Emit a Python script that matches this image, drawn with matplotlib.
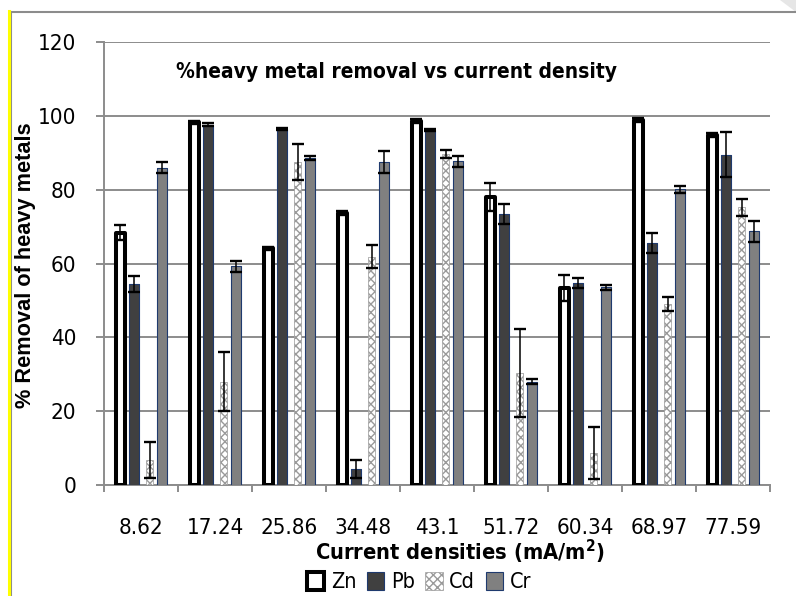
import matplotlib
matplotlib.use('Agg')
import matplotlib.pyplot as plt
import numpy as np
from matplotlib import font_manager as fm
from matplotlib.patches import Patch, Polygon
from matplotlib.lines import Line2D

# ---------------- data ----------------
categories = ['8.62', '17.24', '25.86', '34.48', '43.1', '51.72', '60.34', '68.97', '77.59']
series_names = ['Zn', 'Pb', 'Cd', 'Cr']
zn = [68.3, 98.2, 64.1, 73.6, 98.6, 78.0, 53.4, 98.8, 94.9]
zn_err = [2.0, 0.5, 0.5, 0.5, 0.5, 3.9, 3.6, 0.5, 0.5]
pb = [54.5, 97.6, 96.5, 4.3, 96.2, 73.4, 54.7, 65.5, 89.4]
pb_err = [2.2, 0.4, 0.3, 2.5, 0.3, 2.7, 1.4, 2.7, 6.1]
cd = [6.7, 28.0, 87.5, 61.8, 89.7, 30.4, 8.6, 49.0, 75.2]
cd_err = [4.9, 8.0, 4.9, 3.1, 1.0, 11.9, 7.0, 2.0, 2.4]
cr = [85.9, 59.3, 88.6, 87.5, 87.7, 28.0, 53.5, 80.1, 68.7]
cr_err = [1.5, 1.5, 0.6, 3.0, 1.5, 0.6, 0.6, 1.0, 2.8]
y_ticks = [0, 20, 40, 60, 80, 100, 120]

# ---------------- fonts: look for a narrow sans, else Liberation Sans ----------------
narrow_reg = narrow_bold = None
for f in fm.fontManager.ttflist:
    nm = f.name.lower()
    is_narrow = ('narrow' in nm or 'condensed' in nm or
                 f.stretch in ('condensed', 'semi-condensed', 'extra-condensed'))
    if not is_narrow or 'mono' in nm or 'serif' in nm:
        continue
    if f.style != 'normal':
        continue
    w = f.weight if isinstance(f.weight, int) else (700 if 'bold' in str(f.weight) else 400)
    if w >= 600:
        if narrow_bold is None:
            narrow_bold = f.fname
    elif w == 400 or w == 'normal':
        if narrow_reg is None:
            narrow_reg = f.fname

if narrow_reg and narrow_bold:
    P_REG = lambda s: fm.FontProperties(fname=narrow_reg, size=s)
    P_BOLD = lambda s: fm.FontProperties(fname=narrow_bold, size=s)
    SZ = dict(tick=16, title=15, xlab=15.7, leg=15.5)
else:
    P_REG = lambda s: fm.FontProperties(family=['Liberation Sans', 'DejaVu Sans'], size=s)
    P_BOLD = lambda s: fm.FontProperties(family=['Liberation Sans', 'DejaVu Sans'], weight='bold', size=s)
    SZ = dict(tick=16, title=16, xlab=17, leg=16)

W, H = 796, 596
fig = plt.figure(figsize=(W / 100, H / 100), dpi=100)
fig.patch.set_facecolor('white')


def fx(px):
    return px / W


def fy(py):
    return 1 - py / H


ax = fig.add_axes([fx(104), fy(485), fx(770) - fx(104), fy(42) - fy(485)])

x = np.arange(len(categories))
styles = [
    dict(values=zn, err=zn_err, off=-0.28, width=0.122, facecolor='white', edgecolor='black', lw=2.9, hatch=None),
    dict(values=pb, err=pb_err, off=-0.09, width=0.135, facecolor='#404040', edgecolor='#1f3a6e', lw=0.8, hatch=None),
    dict(values=cd, err=cd_err, off=0.115, width=0.10, facecolor='white', edgecolor='#9a9a9a', lw=0.5, hatch='xxxx'),
    dict(values=cr, err=cr_err, off=0.29, width=0.135, facecolor='#808080', edgecolor='#1f3a6e', lw=0.8, hatch=None),
]

for name, s in zip(series_names, styles):
    bars = ax.bar(x + s['off'], s['values'], s['width'], color=s['facecolor'],
                  edgecolor=s['edgecolor'], linewidth=s['lw'], hatch=s['hatch'],
                  zorder=3, label=name)
    for b in bars:
        b.set_joinstyle('round')
    ax.errorbar(x + s['off'], s['values'], yerr=s['err'], fmt='none', ecolor='black',
                elinewidth=1.1, capsize=4.3, capthick=1.7, zorder=4)

ax.set_xlim(-0.5, len(categories) - 0.5)
ax.set_ylim(0, 120)
ax.set_yticks(y_ticks)
ax.set_yticklabels([str(v) for v in y_ticks])
ax.set_xticks(x)
ax.set_xticklabels(categories)
for lab in ax.get_xticklabels() + ax.get_yticklabels():
    lab.set_fontproperties(P_REG(SZ['tick']))
ax.set_xticks(np.arange(-0.5, len(categories), 1), minor=True)
ax.tick_params(axis='x', which='major', length=0, pad=24)
ax.tick_params(axis='x', which='minor', length=5, width=1.4, color='#8c8c8c')
ax.tick_params(axis='y', length=5.8, width=1.4, color='#8c8c8c', pad=14)

ax.grid(axis='y', color='#8c8c8c', linewidth=1.4, zorder=0)
ax.set_axisbelow(True)
for sp in ['top', 'right']:
    ax.spines[sp].set_visible(False)
for sp in ['left', 'bottom']:
    ax.spines[sp].set_color('#8c8c8c')
    ax.spines[sp].set_linewidth(1.4)

# title inside the plot
fig.text(fx(396), fy(72), '%heavy metal removal vs current density',
         fontproperties=P_BOLD(SZ['title']), ha='center', va='center')

# axis labels
fig.text(fx(26), fy(265), '% Removal of heavy metals', rotation=90,
         fontproperties=fm.FontProperties(family=['Liberation Sans', 'DejaVu Sans'],
                                          weight='bold', size=15.7),
         ha='center', va='center')

fig.text(fx(460), fy(552), 'Current densities (mA/m$^\\mathregular{2}$)',
         fontproperties=P_BOLD(SZ['xlab']), ha='center', va='center')

# legend
handles = [Patch(facecolor=s['facecolor'], edgecolor=s['edgecolor'], linewidth=s['lw'],
                 hatch=s['hatch'], label=n) for n, s in zip(series_names, styles)]
fig.legend(handles=handles, loc='center', bbox_to_anchor=(fx(419), fy(582)), ncol=4,
           frameon=False, prop=P_REG(SZ['leg']), handlelength=0.8,
           handleheight=0.9, handletextpad=0.3, columnspacing=0.5, borderpad=0)

# chart-area border and decorations
fig.add_artist(Line2D([fx(11), fx(11)], [fy(12), 0], color='#8c8c8c', lw=1.5))
fig.add_artist(Line2D([fx(11), 1], [fy(12), fy(12)], color='#8c8c8c', lw=1.5))
fig.add_artist(Line2D([fx(8.5), fx(8.5)], [fy(11), 0], color='#ffff00', lw=2.2))
fig.add_artist(Polygon([[fx(780), 1], [1, 1], [1, fy(12)]], closed=True,
                       facecolor='#e6e6e6', edgecolor='none', hatch='....'))

fig.savefig('out.png', dpi=100, facecolor='white')
